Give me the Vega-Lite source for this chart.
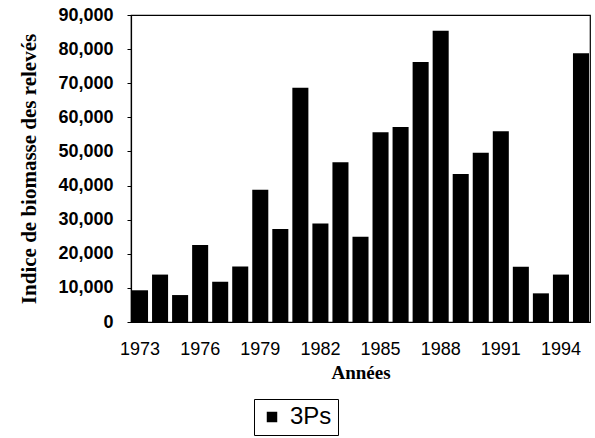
{
  "$schema": "https://vega.github.io/schema/vega-lite/v6.json",
  "autosize": "none",
  "width": 459,
  "height": 307,
  "padding": {"left": 131, "top": 15, "right": 5, "bottom": 116},
  "background": "white",
  "config": {
    "view": {"stroke": "black", "strokeWidth": 1.2},
    "axis": {"domainColor": "black", "domainWidth": 1.2, "grid": false, "labelColor": "black", "titleColor": "black"}
  },
  "data": {
    "values": [
      {"year": "1973", "value": 9300, "zone": "3Ps"},
      {"year": "1974", "value": 13900, "zone": "3Ps"},
      {"year": "1975", "value": 7900, "zone": "3Ps"},
      {"year": "1976", "value": 22600, "zone": "3Ps"},
      {"year": "1977", "value": 11800, "zone": "3Ps"},
      {"year": "1978", "value": 16300, "zone": "3Ps"},
      {"year": "1979", "value": 38800, "zone": "3Ps"},
      {"year": "1980", "value": 27300, "zone": "3Ps"},
      {"year": "1981", "value": 68700, "zone": "3Ps"},
      {"year": "1982", "value": 28900, "zone": "3Ps"},
      {"year": "1983", "value": 46800, "zone": "3Ps"},
      {"year": "1984", "value": 25000, "zone": "3Ps"},
      {"year": "1985", "value": 55600, "zone": "3Ps"},
      {"year": "1986", "value": 57200, "zone": "3Ps"},
      {"year": "1987", "value": 76200, "zone": "3Ps"},
      {"year": "1988", "value": 85400, "zone": "3Ps"},
      {"year": "1989", "value": 43400, "zone": "3Ps"},
      {"year": "1990", "value": 49600, "zone": "3Ps"},
      {"year": "1991", "value": 55900, "zone": "3Ps"},
      {"year": "1992", "value": 16200, "zone": "3Ps"},
      {"year": "1993", "value": 8400, "zone": "3Ps"},
      {"year": "1994", "value": 13900, "zone": "3Ps"},
      {"year": "1995", "value": 78800, "zone": "3Ps"}
    ]
  },
  "mark": {"type": "bar"},
  "encoding": {
    "x": {
      "field": "year",
      "type": "ordinal",
      "scale": {"paddingInner": 0.2, "paddingOuter": 0.05},
      "axis": {
        "title": "Années",
        "titleFont": "Liberation Serif",
        "titleFontSize": 19,
        "titleFontWeight": "bold",
        "titlePadding": 5,
        "labelAngle": 0,
        "labelFont": "Liberation Sans",
        "labelFontSize": 18,
        "labelFontWeight": "normal",
        "labelPadding": 18,
        "ticks": false,
        "labelExpr": "(+datum.value - 1973) % 3 == 0 ? datum.label : ''"
      }
    },
    "y": {
      "field": "value",
      "type": "quantitative",
      "scale": {"domain": [0, 90000], "nice": false},
      "axis": {
        "title": "Indice de biomasse des relevés",
        "titleFont": "Liberation Serif",
        "titleFontSize": 21,
        "titleFontWeight": "bold",
        "titlePadding": 18,
        "values": [0, 10000, 20000, 30000, 40000, 50000, 60000, 70000, 80000, 90000],
        "format": ",d",
        "labelFont": "Liberation Sans",
        "labelFontSize": 18,
        "labelFontWeight": "bold",
        "labelPadding": 14,
        "tickSize": 4,
        "tickColor": "black"
      }
    },
    "color": {
      "field": "zone",
      "type": "nominal",
      "scale": {"range": ["black"]},
      "legend": {
        "title": null,
        "orient": "none",
        "legendX": 123,
        "legendY": 384,
        "strokeColor": "black",
        "padding": 6,
        "symbolType": "square",
        "symbolSize": 110,
        "symbolStrokeWidth": 0,
        "labelFont": "Liberation Sans",
        "labelFontSize": 24,
        "labelColor": "black",
        "labelOffset": 6
      }
    }
  }
}
